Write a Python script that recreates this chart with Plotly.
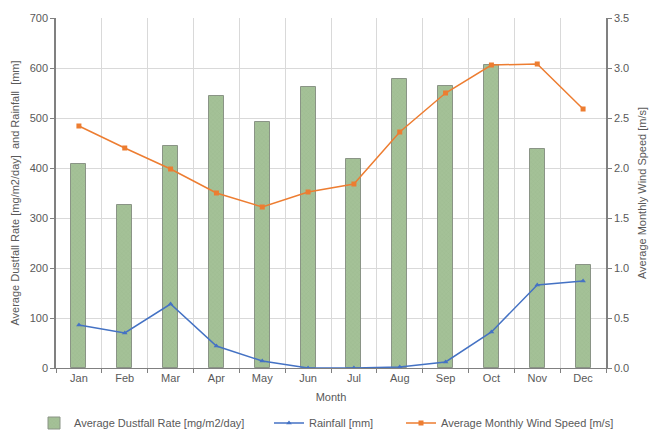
import plotly.graph_objects as go

months = ["Jan", "Feb", "Mar", "Apr", "May", "Jun", "Jul", "Aug", "Sep", "Oct", "Nov", "Dec"]
dustfall = [408, 326, 444, 544, 492, 562, 418, 578, 564, 606, 438, 206]
rainfall = [86, 70, 128, 44, 14, 0, 0, 2, 12, 72, 166, 174]
wind_speed = [2.42, 2.20, 1.99, 1.75, 1.61, 1.76, 1.84, 2.36, 2.75, 3.03, 3.04, 2.59]

font_color = "#595959"
grid_color = "#d9d9d9"
axis_color = "#808080"

fig = go.Figure()
fig.add_trace(go.Bar(
    x=months, y=dustfall, name="Average Dustfall Rate [mg/m2/day]",
    width=0.33, showlegend=True,
    marker=dict(color="#a4c197", line=dict(color="#8a9486", width=1),
                pattern=dict(shape="x", size=3, solidity=0.2, fgcolor="#93b184", fillmode="overlay")),
    yaxis="y", legend="legend",
))
fig.add_trace(go.Scatter(
    x=months, y=rainfall, name="Rainfall [mm]", mode="lines+markers", showlegend=True,
    line=dict(color="#4472c4", width=1.5),
    marker=dict(symbol="triangle-up", size=5, color="#4472c4"),
    yaxis="y", legend="legend2",
))
fig.add_trace(go.Scatter(
    x=months, y=wind_speed, name="Average Monthly Wind Speed [m/s]", mode="lines+markers", showlegend=True,
    line=dict(color="#ed7d31", width=1.5),
    marker=dict(symbol="square", size=5, color="#ed7d31"),
    yaxis="y2", legend="legend3",
))

W, H = 662, 432
L, R, T, B = 56, 56, 18, 64

leg_common = dict(orientation="h", yanchor="middle", xanchor="left",
                  xref="container", yref="container",
                  font=dict(size=11, color=font_color), itemwidth=30,
                  bgcolor="rgba(0,0,0,0)", borderwidth=0)

fig.update_layout(
    width=W, height=H, showlegend=True,
    margin=dict(l=L, r=R, t=T, b=B, autoexpand=False),
    paper_bgcolor="white", plot_bgcolor="white",
    font=dict(family="Liberation Sans, Arial, sans-serif", size=11, color=font_color),
    bargap=0,
    xaxis=dict(
        type="category", range=[-0.5, len(months) - 0.5], autorange=False,
        tickson="boundaries", showgrid=True, gridcolor=grid_color,
        ticks="outside", ticklen=4, tickcolor=axis_color, automargin=False,
        showline=True, linecolor=axis_color, linewidth=1,
        title=dict(text="Month", font=dict(size=11, color=font_color), standoff=10),
        tickfont=dict(size=11, color=font_color),
    ),
    yaxis=dict(
        range=[0, 700], dtick=100, showgrid=True, gridcolor=grid_color,
        showline=True, linecolor=axis_color, linewidth=1.5, automargin=False,
        ticks="outside", ticklen=4, tickcolor=axis_color,
        zeroline=False,
        title=dict(text="Average Dustfall Rate [mg/m2/day]  and Rainfall  [mm]", font=dict(size=11, color=font_color), standoff=8),
        tickfont=dict(size=11, color=font_color),
    ),
    yaxis2=dict(
        range=[0, 3.5], dtick=0.5, tickformat=".1f", overlaying="y", side="right",
        showgrid=False, showline=True, linecolor=axis_color, linewidth=1.5, automargin=False,
        ticks="outside", ticklen=4, tickcolor=axis_color, zeroline=False,
        title=dict(text="Average Monthly Wind Speed [m/s]", font=dict(size=11, color=font_color), standoff=10),
        tickfont=dict(size=11, color=font_color),
    ),
    legend=dict(x=34 / W, y=1 - 423 / H, **leg_common),
    legend2=dict(x=269 / W, y=1 - 423 / H, **leg_common),
    legend3=dict(x=401 / W, y=1 - 423 / H, **leg_common),
)

fig.write_html("out.html")
